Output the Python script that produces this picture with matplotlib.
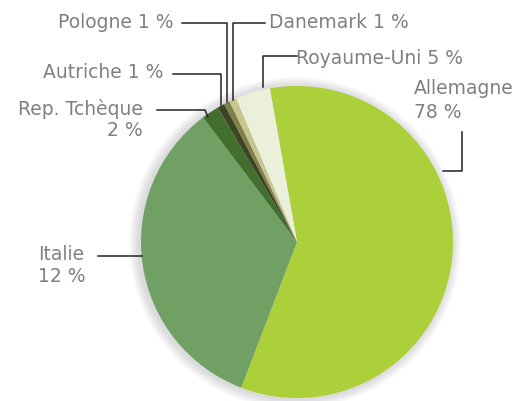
import matplotlib
import matplotlib.pyplot as plt
from matplotlib.patches import Circle
matplotlib.use('Agg')

# pays, dans l'ordre horaire depuis le haut
pays = ["Allemagne", "Italie", "Rep. Tchèque", "Autriche", "Pologne", "Danemark", "Royaume-Uni"]
pourcent = [78, 12, 2, 1, 1, 1, 5]
# parts telles que dessinees dans le camembert
parts = [58.6, 33.9, 1.8, 0.75, 0.6, 0.75, 3.6]
couleurs = ["#acd03a", "#70a064", "#426e2e", "#3b4524", "#7f7f48", "#c9c58f", "#eaf0d9"]

W, H = 532, 402
fig = plt.figure(figsize=(W / 100, H / 100), dpi=100)
ax = fig.add_axes([0, 0, 1, 1])

cx, cy, r = 297, H - 243, 156

# ombre douce autour du camembert
for i in range(10):
    ax.add_patch(Circle((cx - 2, cy - 1), r + 10 - i, color='#8a8a92', alpha=0.03, lw=0, zorder=1))

ax.pie(parts, colors=couleurs, startangle=100, counterclock=False,
       center=(cx, cy), radius=r, wedgeprops=dict(linewidth=0), frame=True)
ax.set_xlim(0, W)
ax.set_ylim(0, H)
ax.set_aspect('equal')
ax.axis('off')

txt = dict(color='#808080', fontsize=13.5, family='DejaVu Sans', va='center')
lc = dict(color='#222222', lw=1.1, zorder=5)


def y(v):
    return H - v


# Pologne
ax.text(173, y(22), f"{pays[4]} {pourcent[4]} %", ha='right', **txt)
ax.plot([182, 227, 227], [y(24), y(24), y(103)], **lc)
# Danemark
ax.text(269, y(22), f"{pays[5]} {pourcent[5]} %", ha='left', **txt)
ax.plot([265, 233, 233], [y(24), y(24), y(101)], **lc)
# Royaume-Uni
ax.text(296, y(58), f"{pays[6]} {pourcent[6]} %", ha='left', **txt)
ax.plot([297, 263, 263], [y(57), y(57), y(88)], **lc)
# Autriche
ax.text(163, y(73), f"{pays[3]} {pourcent[3]} %", ha='right', **txt)
ax.plot([173, 221, 221], [y(75), y(75), y(106)], **lc)
# Rep. Tcheque
ax.text(143, y(109), pays[2], ha='right', **txt)
ax.text(143, y(130), f"{pourcent[2]} %", ha='right', **txt)
ax.plot([157, 205, 208], [y(111), y(111), y(118)], **lc)
# Allemagne
ax.text(414, y(88), pays[0], ha='left', **txt)
ax.text(414, y(112), f"{pourcent[0]} %", ha='left', **txt)
ax.plot([462, 462, 443], [y(133), y(172), y(172)], **lc)
# Italie
ax.text(38, y(254), pays[1], ha='left', **txt)
ax.text(38, y(277), f"{pourcent[1]} %", ha='left', **txt)
ax.plot([98, 142], [y(257), y(257)], **lc)

fig.savefig('out.png', dpi=100, facecolor='white')
